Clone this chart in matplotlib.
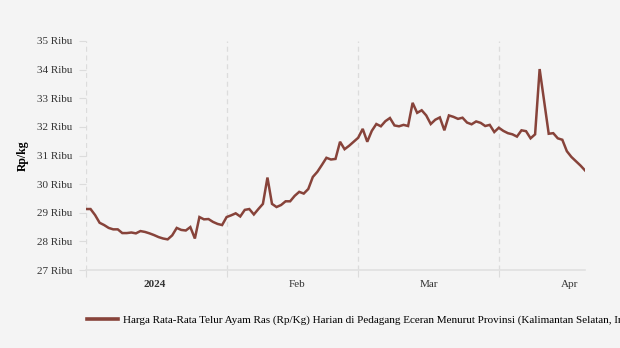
import pandas as pd
import matplotlib.pyplot as plt
import matplotlib.dates as mdates

plt.rcParams['font.family'] = ['Liberation Serif', 'DejaVu Serif']

# Daily prices (thousand Rp/kg), 1 Jan - 20 Apr 2024, no record on 11 Apr
prices = [29.13, 29.13, 28.92, 28.65, 28.57, 28.47, 28.42, 28.42, 28.29, 28.29,
          28.31, 28.28, 28.36, 28.33, 28.28, 28.22, 28.15, 28.10, 28.07, 28.21,
          28.47, 28.40, 28.38, 28.50, 28.10, 28.85, 28.77, 28.78, 28.68, 28.61,
          28.57, 28.85, 28.91, 28.98, 28.87, 29.10, 29.13, 28.94, 29.13, 29.31,
          30.23, 29.31, 29.20, 29.27, 29.40, 29.40, 29.59, 29.73, 29.67, 29.83,
          30.25, 30.43, 30.67, 30.92, 30.86, 30.88, 31.48, 31.22, 31.34, 31.48,
          31.62, 31.93, 31.48, 31.86, 32.10, 32.02, 32.20, 32.31, 32.05, 32.02,
          32.07, 32.03, 32.84, 32.49, 32.58, 32.40, 32.10, 32.25, 32.33, 31.88,
          32.40, 32.35, 32.28, 32.32, 32.15, 32.09, 32.19, 32.14, 32.03, 32.07,
          31.82, 31.97, 31.86, 31.78, 31.74, 31.66, 31.88, 31.85, 31.60, 31.74,
          34.02, 31.76, 31.78, 31.60, 31.55, 31.15, 30.95, 30.80, 30.65, 30.48]
dates = pd.date_range('2024-01-01', '2024-04-20').drop(pd.Timestamp('2024-04-11'))

y_ticks = [27, 28, 29, 30, 31, 32, 33, 34, 35]
month_starts = pd.to_datetime(['2024-01-01', '2024-02-01', '2024-03-01', '2024-04-01'])
label_pos = pd.to_datetime(['2024-01-16 06:00', '2024-02-16 12:00', '2024-03-16 12:00', '2024-04-16 12:00'])
x_labels = ['2024', 'Feb', 'Mar', 'Apr']
series_name = ('Harga Rata-Rata Telur Ayam Ras (Rp/Kg) Harian di Pedagang Eceran '
               'Menurut Provinsi (Kalimantan Selatan, Indonesia)')

bg = '#f4f4f4'
line_color = '#87433a'
grid_color = '#dcdcdc'

fig = plt.figure(figsize=(6.2, 3.48), dpi=100, facecolor=bg)
ax = fig.add_axes([86 / 620, 1 - 270 / 348, 499 / 620, 229 / 348], facecolor=bg)

ax.plot(dates, prices, color=line_color, linewidth=1.8, label=series_name,
        solid_joinstyle='miter', zorder=3)

ax.set_ylim(27, 35)
ax.set_xlim(dates[0], dates[-1])

# y axis
ax.set_yticks(y_ticks)
ax.set_yticklabels([f'{v} Ribu' for v in y_ticks])
ax.tick_params(axis='y', length=5, width=0.8, color=grid_color, pad=5,
               labelsize=8, labelcolor='#333333')
ax.set_ylabel('Rp/kg', fontsize=8.5, fontweight='bold', labelpad=6)

# x axis: grid at month starts, labels mid-month
ax.set_xticks(month_starts)
ax.set_xticklabels([])
ax.tick_params(axis='x', which='major', length=5, width=0.8, color=grid_color)
ax.set_xticks(label_pos, minor=True)
ax.set_xticklabels(x_labels, minor=True)
ax.tick_params(axis='x', which='minor', length=0, pad=7.5, labelsize=8,
               labelcolor='#333333')
ax.get_xticklabels(minor=True)[0].set_fontweight('bold')
for d in month_starts:
    ax.axvline(d, color=grid_color, linewidth=0.9, linestyle=(0, (4, 3)), zorder=1)

for side in ['top', 'right', 'left']:
    ax.spines[side].set_visible(False)
ax.spines['bottom'].set_color('#e0e0e0')
ax.spines['bottom'].set_linewidth(1.2)

ax.legend(loc='center left', bbox_to_anchor=(83 / 620, 1 - 320 / 348),
          bbox_transform=fig.transFigure, frameon=False, fontsize=8,
          handlelength=2.75, handletextpad=0.45, borderaxespad=0)
for lh in ax.get_legend().get_lines():
    lh.set_linewidth(2.6)

fig.savefig('out.png', dpi=100, facecolor=bg)
